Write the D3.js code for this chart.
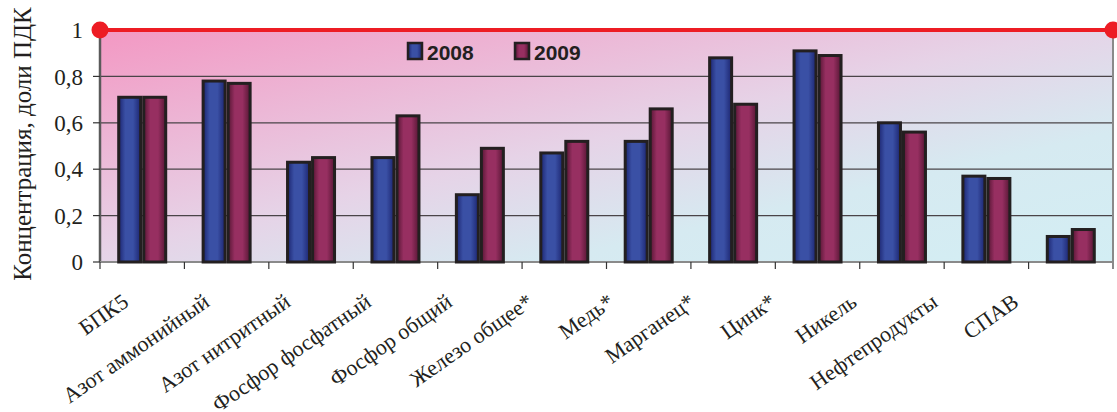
<!DOCTYPE html>
<html>
<head>
<meta charset="utf-8">
<script src="https://cdn.jsdelivr.net/npm/d3@7"></script>
<style>
  body { margin: 0; background: #fff; }
  svg { display: block; }
</style>
</head>
<body>
<div id="chart"></div>
<script>
// chart data
const categories = ["БПК5", "Азот аммонийный", "Азот нитритный", "Фосфор фосфатный",
  "Фосфор общий", "Железо общее*", "Медь*", "Марганец*", "Цинк*", "Никель",
  "Нефтепродукты", "СПАВ"];
const years = ["2008", "2009"];
const values2008 = [0.71, 0.78, 0.43, 0.45, 0.29, 0.47, 0.52, 0.88, 0.91, 0.60, 0.37, 0.11];
const values2009 = [0.71, 0.77, 0.45, 0.63, 0.49, 0.52, 0.66, 0.68, 0.89, 0.56, 0.36, 0.14];
const yTicks = [0, 0.2, 0.4, 0.6, 0.8, 1];
const yTickLabels = ["0", "0,2", "0,4", "0,6", "0,8", "1"];
const limitValue = 1; // ПДК line

const serif = "'Liberation Serif', 'Times New Roman', serif";

const width = 1117, height = 412;
const margin = { top: 30, right: 4, bottom: 150, left: 100 };
const plotW = width - margin.left - margin.right,
  plotH = height - margin.top - margin.bottom;

const svg = d3.select("#chart").append("svg")
  .attr("width", width)
  .attr("height", height);

const defs = svg.append("defs");

// plot background: pink top-left fading to pale cyan bottom-right
const bg = defs.append("linearGradient").attr("id", "bgGrad")
  .attr("x1", 0).attr("y1", 0).attr("x2", 1).attr("y2", 1);
bg.append("stop").attr("offset", "0%").attr("stop-color", "#f398c3");
bg.append("stop").attr("offset", "48%").attr("stop-color", "#e6d3e7");
bg.append("stop").attr("offset", "72%").attr("stop-color", "#d6eaf1");
bg.append("stop").attr("offset", "100%").attr("stop-color", "#d3eef4");

// bar fills, darker at the edges
function barGradient(id, edge, mid) {
  const g = defs.append("linearGradient").attr("id", id)
    .attr("x1", 0).attr("y1", 0).attr("x2", 1).attr("y2", 0);
  g.append("stop").attr("offset", "0%").attr("stop-color", edge);
  g.append("stop").attr("offset", "30%").attr("stop-color", mid);
  g.append("stop").attr("offset", "65%").attr("stop-color", mid);
  g.append("stop").attr("offset", "100%").attr("stop-color", edge);
}
barGradient("grad2008", "#1c2570", "#3a50a5");
barGradient("grad2009", "#561634", "#972f61");

const g = svg.append("g")
  .attr("transform", `translate(${margin.left},${margin.top})`);

const x = d3.scaleBand().domain(categories).range([0, plotW]);
const x1 = d3.scaleBand().domain(years).range([x.bandwidth() / 2 - 25, x.bandwidth() / 2 + 25]);
const y = d3.scaleLinear().domain([0, 1]).range([plotH, 0]);

g.append("rect")
  .attr("width", plotW)
  .attr("height", plotH)
  .attr("fill", "url(#bgGrad)");

// gridlines
g.selectAll(".grid")
  .data(yTicks.filter(d => d > 0 && d < 1))
  .enter().append("line")
  .attr("class", "grid")
  .attr("x1", 0).attr("x2", plotW)
  .attr("y1", d => y(d)).attr("y2", d => y(d))
  .style("stroke", "#4a4448")
  .style("stroke-width", 1.2);

// axes frame
g.append("line").attr("x1", 0).attr("x2", 0).attr("y1", 0).attr("y2", plotH)
  .style("stroke", "#5a5a5a").style("stroke-width", 2.5);
g.append("line").attr("x1", plotW).attr("x2", plotW).attr("y1", 0).attr("y2", plotH + 7)
  .style("stroke", "#8a8a8a").style("stroke-width", 2);
g.append("line").attr("x1", 0).attr("x2", plotW).attr("y1", plotH).attr("y2", plotH)
  .style("stroke", "#8a8a8a").style("stroke-width", 2);

// y ticks and labels
g.selectAll(".ytick")
  .data(yTicks)
  .enter().append("line")
  .attr("x1", -7).attr("x2", 0)
  .attr("y1", d => y(d)).attr("y2", d => y(d))
  .style("stroke", "#333").style("stroke-width", 1.2);

g.selectAll(".ylabel")
  .data(yTicks)
  .enter().append("text")
  .attr("x", -17)
  .attr("y", d => y(d))
  .attr("dy", "0.36em")
  .attr("text-anchor", "end")
  .style("font-family", serif)
  .style("font-size", "23px")
  .style("fill", "#231f20")
  .text((d, i) => yTickLabels[i]);

// x ticks at category boundaries
g.selectAll(".xtick")
  .data(categories.slice(1))
  .enter().append("line")
  .attr("x1", d => x(d)).attr("x2", d => x(d))
  .attr("y1", plotH).attr("y2", plotH + 7)
  .style("stroke", "#333").style("stroke-width", 1.2);
g.append("line").attr("x1", 0).attr("x2", 0).attr("y1", plotH).attr("y2", plotH + 7)
  .style("stroke", "#333").style("stroke-width", 1.2);

// bars
const seriesData = categories.map((c, i) => ({ cat: c, vals: [values2008[i], values2009[i]] }));
const groups = g.selectAll(".grp")
  .data(seriesData)
  .enter().append("g")
  .attr("transform", d => `translate(${x(d.cat)},0)`);

groups.selectAll("rect")
  .data(d => d.vals.map((v, k) => ({ year: years[k], v })))
  .enter().append("rect")
  .attr("x", d => x1(d.year) + 1.5)
  .attr("y", d => y(d.v))
  .attr("width", x1.bandwidth() - 3)
  .attr("height", d => plotH - y(d.v))
  .attr("fill", d => `url(#grad${d.year})`)
  .style("stroke", "#231f20")
  .style("stroke-width", 3);

// limit line (ПДК)
g.append("line")
  .attr("x1", 0).attr("x2", plotW)
  .attr("y1", y(limitValue)).attr("y2", y(limitValue))
  .style("stroke", "#ed1c24").style("stroke-width", 4);
g.selectAll(".dot")
  .data([0, plotW])
  .enter().append("circle")
  .attr("cx", d => d).attr("cy", y(limitValue))
  .attr("r", 8.5)
  .attr("fill", "#ed1c24");

// legend
const legend = g.append("g").attr("transform", "translate(308,12)");
years.forEach((yr, k) => {
  const lg = legend.append("g").attr("transform", `translate(${k * 107},0)`);
  lg.append("rect")
    .attr("y", 1)
    .attr("width", 14).attr("height", 16)
    .attr("fill", `url(#grad${yr})`)
    .style("stroke", "#231f20").style("stroke-width", 2.5);
  lg.append("text")
    .attr("x", 19).attr("y", 18)
    .style("font-family", "'Liberation Sans', Arial, sans-serif")
    .style("font-weight", "bold")
    .style("font-size", "21px")
    .style("fill", "#231f20")
    .text(yr);
});

// category labels, rotated
const lx = d3.scalePoint().domain(categories).range([30, 920]);
g.selectAll(".xlabel")
  .data(categories)
  .enter().append("text")
  .attr("text-anchor", "end")
  .attr("transform", d => `translate(${lx(d)},${plotH + 43}) rotate(-35)`)
  .style("font-family", serif)
  .style("font-size", "22px")
  .style("fill", "#231f20")
  .text(d => d);

// y axis title
svg.append("text")
  .attr("transform", `translate(31,${margin.top + 114}) rotate(-90)`)
  .attr("text-anchor", "middle")
  .style("font-family", serif)
  .style("font-size", "25px")
  .style("fill", "#231f20")
  .text("Концентрация, доли ПДК");
</script>
</body>
</html>
